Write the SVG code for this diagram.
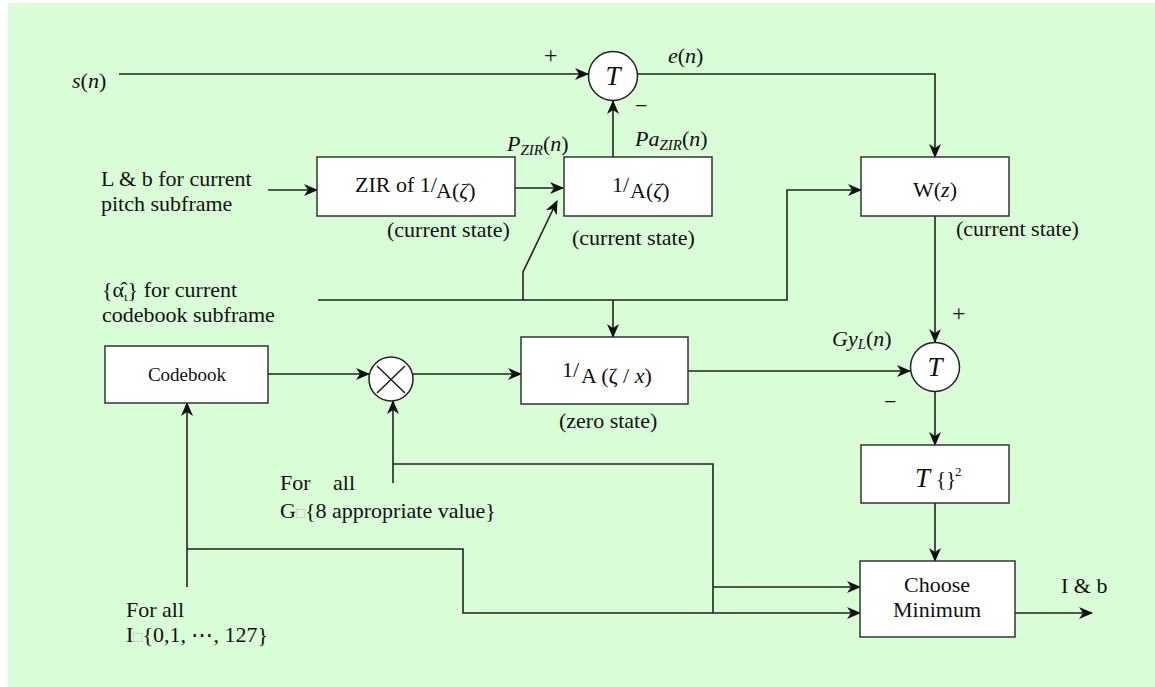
<svg xmlns="http://www.w3.org/2000/svg" width="1155" height="687" viewBox="0 0 1155 687">
<style>
text{font-family:"Liberation Serif","Times New Roman",serif;font-size:22px;fill:#111}
.i{font-style:italic}
.box{fill:#fff;stroke:#333;stroke-width:1.5}
.cir{fill:#fff;stroke:#222;stroke-width:1.5}
.ln{fill:none;stroke:#222;stroke-width:1.6}
.sm{font-size:15px}
.sq{font-size:15px;fill:#bbb}
.big{font-size:27px}
.cb{font-size:19px}
.br{font-size:21px}
.sup{font-size:13px}
.pm{font-size:24px}
</style>
<defs>
<marker id="ah" markerUnits="userSpaceOnUse" markerWidth="14" markerHeight="12" refX="13" refY="6" orient="auto">
<path d="M0,0 L14,6 L0,12 L4,6 z" fill="#111"/>
</marker>
</defs>
<rect x="8" y="3" width="1147" height="684" fill="#d9fdd7"/>

<g id="connectors" class="ln" marker-end="url(#ah)">
<path d="M119,74 H588"/>
<path d="M638,74 H935 V157"/>
<path d="M268,190 H317"/>
<path d="M515,188 H563"/>
<path d="M613,157 V101"/>
<path d="M318,300 H787 V190 H861"/>
<path d="M523,300 V272 L557,201"/>
<path d="M613,300 V337"/>
<path d="M935,216 V342"/>
<path d="M688,371 H910"/>
<path d="M935,391 V445"/>
<path d="M935,503 V561"/>
<path d="M268,374 H369"/>
<path d="M413,374 H521"/>
<path d="M393,483 V401"/>
<path d="M393,464 H713 V613" marker-end="none"/>
<path d="M713,587 H860"/>
<path d="M187,587 V403"/>
<path d="M187,549 H463 V613 H860"/>
<path d="M1015,613 H1092"/>
</g>

<g id="sum1">
<circle class="cir" cx="613" cy="76" r="24.5"/>
<text class="i big" x="613" y="85" text-anchor="middle">T</text>
</g>
<g id="zir">
<rect class="box" x="317" y="157" width="198" height="59"/>
<text x="355" y="192">ZIR of 1/</text>
<text x="436" y="198">A(<tspan class="i">ζ</tspan>)</text>
</g>
<g id="synth">
<rect class="box" x="564" y="157" width="148" height="59"/>
<text x="612" y="192">1/</text>
<text x="630" y="198">A(<tspan class="i">ζ</tspan>)</text>
</g>
<g id="wz">
<rect class="box" x="861" y="157" width="148" height="59"/>
<text x="935" y="197" text-anchor="middle">W(<tspan class="i">z</tspan>)</text>
</g>
<g id="codebook">
<rect class="box" x="105" y="346" width="163" height="57"/>
<text class="cb" x="187" y="381" text-anchor="middle">Codebook</text>
</g>
<g id="mult">
<circle class="cir" cx="391" cy="379" r="22"/>
<path class="ln" d="M377,366 L405,393 M405,366 L377,393"/>
</g>
<g id="zerostate">
<rect class="box" x="521" y="337" width="167" height="67"/>
<text x="562" y="377">1/</text>
<text x="581" y="383">A (ζ / <tspan class="i">x</tspan>)</text>
</g>
<g id="sum2">
<circle class="cir" cx="935" cy="367" r="24.5"/>
<text class="i big" x="935" y="376" text-anchor="middle">T</text>
</g>
<g id="square">
<rect class="box" x="861" y="445" width="148" height="58"/>
<text class="i big" x="915" y="487">T</text>
<text class="br" x="936" y="486">{}</text>
<text class="sup" x="955" y="476">2</text>
</g>
<g id="choose">
<rect class="box" x="860" y="561" width="155" height="76"/>
<text x="937" y="592" text-anchor="middle">Choose</text>
<text x="937" y="617" text-anchor="middle">Minimum</text>
</g>

<g id="labels">
<text x="72" y="88"><tspan class="i">s</tspan>(<tspan class="i">n</tspan>)</text>
<text class="pm" x="544" y="63">+</text>
<text x="635" y="113">−</text>
<text x="668" y="63"><tspan class="i">e</tspan>(<tspan class="i">n</tspan>)</text>
<text x="507" y="151"><tspan class="i">P</tspan><tspan class="i sm" dy="4">ZIR</tspan><tspan dy="-4">(</tspan><tspan class="i">n</tspan>)</text>
<text x="635" y="146"><tspan class="i">Pa</tspan><tspan class="i sm" dy="4">ZIR</tspan><tspan dy="-4">(</tspan><tspan class="i">n</tspan>)</text>
<text x="101" y="186">L &amp; b for current</text>
<text x="101" y="211">pitch subframe</text>
<text x="387" y="237">(current state)</text>
<text x="572" y="245">(current state)</text>
<text x="956" y="236">(current state)</text>
<text x="102" y="297">{α̂<tspan class="sup" dy="4">ι</tspan><tspan dy="-4">} for current</tspan></text>
<text x="102" y="322">codebook subframe</text>
<text x="559" y="428">(zero state)</text>
<text x="832" y="346"><tspan class="i">Gy</tspan><tspan class="i sm" dy="3">L</tspan><tspan dy="-3">(</tspan><tspan class="i">n</tspan>)</text>
<text class="pm" x="952" y="321">+</text>
<text x="884" y="409">−</text>
<text x="280" y="490">For</text>
<text x="333" y="490">all</text>
<text x="280" y="518">G<tspan class="sq">□</tspan>{8 appropriate value}</text>
<text x="126" y="617">For all</text>
<text x="126" y="642">I<tspan class="sq">□</tspan>{0,1, ⋯, 127}</text>
<text x="1061" y="593">I &amp; b</text>
</g>
</svg>
